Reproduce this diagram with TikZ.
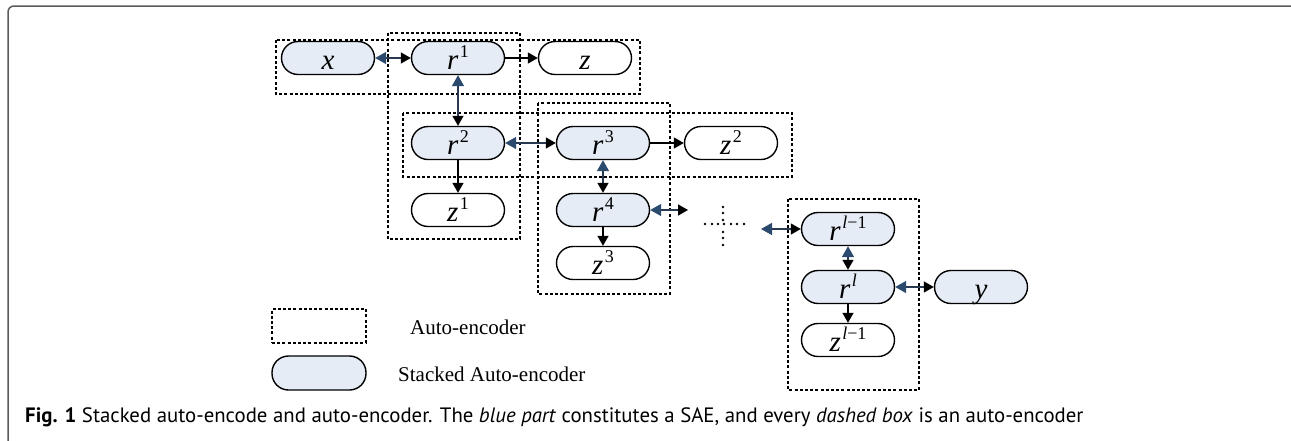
\documentclass[tikz,border=0pt]{standalone}
\usepackage{fontspec}
\setmainfont{Liberation Serif}
\newfontfamily\capfont{PT Sans}
\usetikzlibrary{arrows.meta}

\definecolor{saefill}{RGB}{229,236,245}
\definecolor{saeblue}{RGB}{44,74,110}
\definecolor{saeline}{RGB}{40,58,82}
\definecolor{framegray}{RGB}{90,90,90}

% variable with a raised index, e.g. r^1
\newcommand\supvar[2]{\textit{#1}\kern1.5pt\raisebox{12.5pt}{\fontsize{18}{18}\selectfont #2}}

\tikzset{
  pill/.style={draw=black, line width=1.4pt, rounded corners=16.5pt,
    minimum width=93pt, minimum height=33pt, inner sep=0pt,
    text height=23pt, text depth=0pt, font=\fontsize{29}{29}\selectfont},
  sae/.style={pill, fill=saefill},
  outnode/.style={pill, fill=white},
  aebox/.style={draw=black, line width=1.4pt, dash pattern=on 3pt off 2.2pt},
  fwd/.style={draw=black, line width=1.4pt, -{Triangle[length=10pt,width=11pt]}},
  bidir/.style={draw=saeline, line width=1.4pt,
    {Triangle[length=11pt,width=12pt,color=saeblue]}-{Triangle[length=10pt,width=11pt,color=black]}},
  legendtext/.style={font=\fontsize{21}{24}\selectfont, inner sep=0pt},
  crossdot/.style={fill=black},
}

\begin{document}
\begin{tikzpicture}[x=1pt,y=-1pt]
\useasboundingbox (0,0) rectangle (1291,440);

% figure frame
\draw[framegray, line width=1.5pt, rounded corners=6pt] (8,441) -- (8,6) -- (1292,6);

% auto-encoder boxes
\draw[aebox] (276,40) rectangle (640,94);
\draw[aebox] (388,33) rectangle (520,239);
\draw[aebox] (403,113) rectangle (792,177);
\draw[aebox] (538,103) rectangle (670,294);
\draw[aebox] (788,199) rectangle (919,390);

% units
\node[sae] (x) at (328,58) {\textit{x}};
\node[sae] (r1) at (458,58) {\supvar{r}{1}};
\node[outnode] (z) at (585,58) {\textit{z}};
\node[sae] (r2) at (458,143) {\supvar{r}{2}};
\node[sae] (r3) at (603,143) {\supvar{r}{3}};
\node[outnode] (z2) at (731,143) {\supvar{z}{2}};
\node[outnode] (z1) at (458,210) {\supvar{z}{1}};
\node[sae] (r4) at (603,210) {\supvar{r}{4}};
\node[outnode] (z3) at (603,263) {\supvar{z}{3}};
\node[sae] (rl1) at (848,229) {\supvar{r}{\textit{l}−1}};
\node[sae] (rl) at (848,287) {\supvar{r}{\textit{l}}};
\node[outnode] (zl1) at (848,340) {\supvar{z}{\textit{l}−1}};
\node[sae] (y) at (981,287) {\textit{y}};

\coordinate (e4) at (688,210);
\coordinate (sl) at (761,229);

% connections
\draw[bidir] (x) -- (r1);
\draw[fwd] (r1) -- (z);
\draw[bidir] (r1) -- (r2);
\draw[fwd] (r2) -- (z1);
\draw[bidir] (r2) -- (r3);
\draw[fwd] (r3) -- (z2);
\draw[bidir] (r3) -- (r4);
\draw[fwd] (r4) -- (z3);
\draw[bidir] (r4.east) -- (e4);
\draw[bidir] (sl) -- (rl1.west);
\draw[bidir] (rl1) -- (rl);
\draw[bidir] (rl) -- (y);
\draw[fwd] (rl) -- (zl1);

% ellipsis cross
\foreach \px in {705,712,718,724,731,737,744}
  \fill[crossdot] (\px,224) circle (1.3pt);
\foreach \py in {207,213,220,232,238,245}
  \fill[crossdot] (723,\py) circle (1.3pt);

% legend
\node[aebox, minimum width=94pt, minimum height=34pt, inner sep=0pt] (legbox) at (319,326) {};
\node[sae, minimum width=94pt, minimum height=34pt] (legsae) at (319,373) {};
\node[legendtext, anchor=west] (legae) at (410,327) {Auto-encoder};
\node[legendtext, anchor=west] (legsaetext) at (398,374) {Stacked Auto-encoder};

% caption
\node[anchor=base west, inner sep=0pt, font=\capfont\fontsize{20.8}{22}\selectfont] (caption) at (25,422)
  {\textbf{Fig. 1} Stacked auto-encode and auto-encoder. The \textit{blue part} constitutes a SAE, and every \textit{dashed box} is an auto-encoder};
\end{tikzpicture}
\end{document}
